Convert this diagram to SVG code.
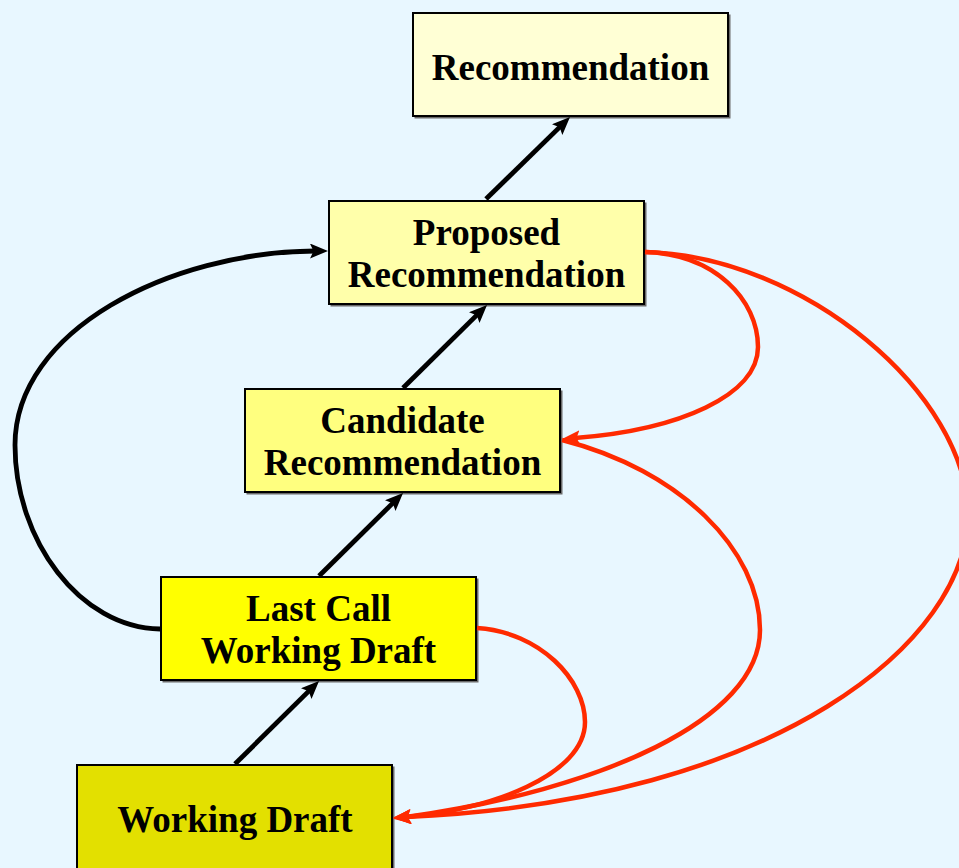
<svg xmlns="http://www.w3.org/2000/svg" width="959" height="868" viewBox="0 0 959 868">
  <style>
    .box { stroke: #000; stroke-width: 2; }
    .shadow { fill: #6a6a6a; }
    .label { font-family: "Liberation Serif", "Times New Roman", serif; font-weight: bold; font-size: 37px; fill: #000; text-anchor: middle; }
    .fwd { fill: none; stroke: #000; stroke-width: 4.8; }
    .back { fill: none; stroke: #ff2a00; stroke-width: 4.5; }
  </style>
  <defs>
    <marker id="headBlack" markerUnits="userSpaceOnUse" markerWidth="20" markerHeight="16" refX="5" refY="7.5" orient="auto">
      <path d="M0,0 L18,7.5 L0,15 L3.5,7.5 z" fill="#000"/>
    </marker>
    <marker id="headRed" markerUnits="userSpaceOnUse" markerWidth="20" markerHeight="16" refX="5" refY="7.5" orient="auto">
      <path d="M0,0 L18,7.5 L0,15 L3.5,7.5 z" fill="#ff2a00"/>
    </marker>
  </defs>

  <rect x="0" y="0" width="959" height="868" fill="#e8f7ff"/>

  <!-- stage boxes -->
  <g id="recommendation">
    <rect class="shadow" x="414.5" y="14.5" width="316" height="104"/>
    <rect class="box" x="413" y="13" width="315" height="103" fill="#ffffd5"/>
    <text class="label" x="570.5" y="80">Recommendation</text>
  </g>
  <g id="proposed-recommendation">
    <rect class="shadow" x="330.5" y="202.5" width="316" height="104"/>
    <rect class="box" x="329" y="201" width="315" height="103" fill="#ffffaa"/>
    <text class="label" x="486.5" y="245">Proposed</text>
    <text class="label" x="486.5" y="287">Recommendation</text>
  </g>
  <g id="candidate-recommendation">
    <rect class="shadow" x="246.5" y="390.5" width="316" height="104"/>
    <rect class="box" x="245" y="389" width="315" height="103" fill="#ffff7f"/>
    <text class="label" x="402.5" y="433">Candidate</text>
    <text class="label" x="402.5" y="475">Recommendation</text>
  </g>
  <g id="last-call-working-draft">
    <rect class="shadow" x="162.5" y="578.5" width="316" height="104"/>
    <rect class="box" x="161" y="577" width="315" height="103" fill="#ffff00"/>
    <text class="label" x="318.5" y="621">Last Call</text>
    <text class="label" x="318.5" y="663">Working Draft</text>
  </g>
  <g id="working-draft">
    <rect class="shadow" x="78.5" y="766.5" width="316" height="120"/>
    <rect class="box" x="77" y="765" width="315" height="120" fill="#e3e000"/>
    <text class="label" x="235" y="832">Working Draft</text>
  </g>

  <!-- transitions -->
  <g id="connectors">
    <path class="fwd" d="M235,764 L309.8,690.1" marker-end="url(#headBlack)"/>
    <path class="fwd" d="M319,576 L393.8,502.1" marker-end="url(#headBlack)"/>
    <path class="fwd" d="M403,388 L477.8,314.1" marker-end="url(#headBlack)"/>
    <path class="fwd" d="M486,199 L560.7,126.1" marker-end="url(#headBlack)"/>
    <path class="fwd" d="M160,629 C80,628 15,540 15,445 C15,330 170,252 315,251" marker-end="url(#headBlack)"/>

    <path class="back" d="M645,252 C715,254 758,300 758,347 C758,395 680,430 575,438" marker-end="url(#headRed)"/>
    <path class="back" d="M645,252 C805,256 968,395 968,515 C968,640 780,800 406,817" marker-end="url(#headRed)"/>
    <path class="back" d="M562,440 C680,470 760,550 760,630 C760,720 600,790 406,817" marker-end="url(#headRed)"/>
    <path class="back" d="M477,628 C540,632 585,680 585,722 C585,775 490,810 406,817" marker-end="url(#headRed)"/>
  </g>
</svg>
